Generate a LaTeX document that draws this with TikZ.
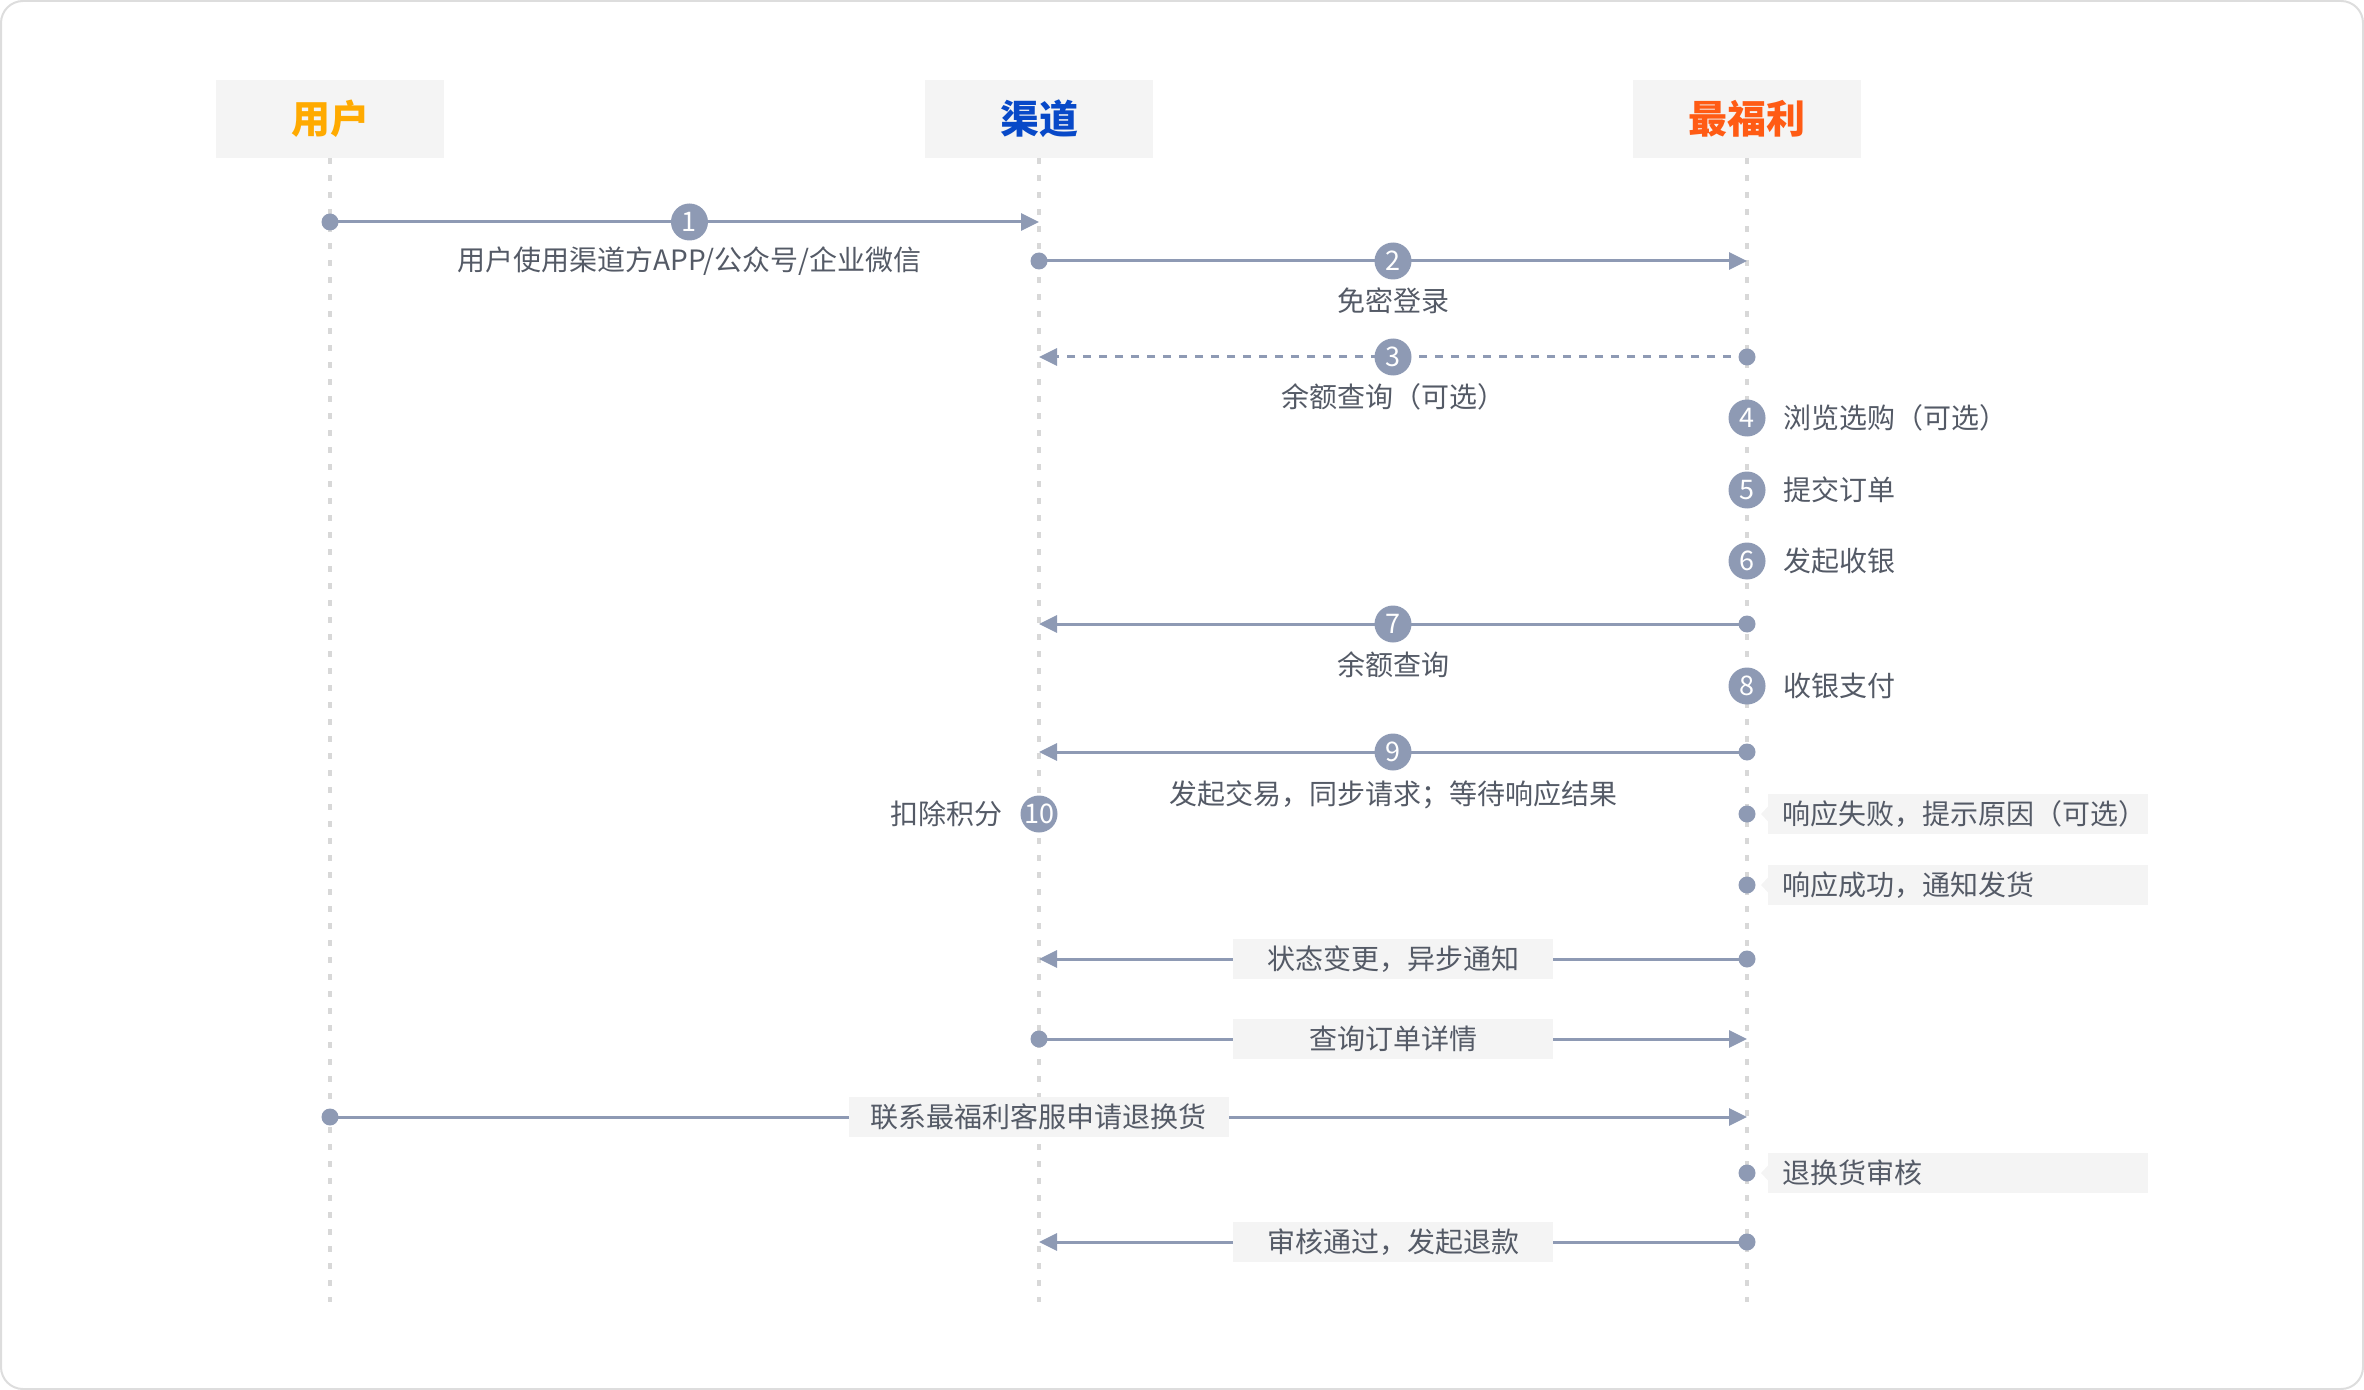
\documentclass[tikz,border=0pt]{standalone}
\usepackage{fontspec}
\setmainfont{Noto Sans CJK SC}
\usetikzlibrary{arrows.meta,positioning}
\definecolor{linegray}{HTML}{8E9AB4}
\definecolor{lifegray}{HTML}{D8D8D8}
\definecolor{boxgray}{HTML}{F4F4F4}
\definecolor{framegray}{HTML}{DDDDDD}
\definecolor{txtgray}{HTML}{545A66}
\definecolor{userorange}{HTML}{FFAA00}
\definecolor{chanblue}{HTML}{0849C8}
\definecolor{zflred}{HTML}{FF5B14}

\begin{document}
\begin{tikzpicture}[x=0.5pt,y=-0.5pt,
    head/.style={fill=boxgray,minimum width=114pt,minimum height=39pt,inner sep=0pt,font=\fontsize{19.5}{22}\selectfont\bfseries},
    life/.style={lifegray,line width=1.8pt,dash pattern=on 3pt off 5.5pt},
    msg/.style={linegray,line width=1.5pt,-{Triangle[length=9pt,width=8.5pt]}},
    dot/.style={circle,fill=linegray,inner sep=0pt,minimum size=8.5pt},
    num/.style={circle,fill=linegray,text=white,inner sep=0pt,minimum size=18.5pt,font=\fontsize{13.5}{13.5}\selectfont},
    lbl/.style={text=txtgray,font=\fontsize{14}{16}\selectfont,inner sep=0pt},
    tag/.style={lbl,fill=boxgray,minimum width=160pt,minimum height=20pt},
    note/.style={lbl,fill=boxgray,anchor=west,text width=176pt,inner xsep=7pt,minimum height=20pt,align=left}]

    \useasboundingbox (0,0) rectangle (2364,1390);
    \draw[framegray,line width=1pt,rounded corners=11pt] (1,1) rectangle (2363,1389);

    % lanes
    \node[head,text=userorange] (user) at (330,119) {用户};
    \node[head,text=chanblue] (chan) at (1039,119) {渠道};
    \node[head,text=zflred] (zfl) at (1747,119) {最福利};
    \coordinate (bottom) at (0,1302);
    \foreach \h in {user,chan,zfl} \draw[life] (\h.south) -- (\h.south |- bottom);

    % rows
    \foreach \r/\y in {1/222,2/261,3/357,4/418,5/490,6/561,7/624,8/686,9/752,10/814,
                       a/814,b/885,11/959,12/1039,13/1117,c/1173,14/1242}
        \coordinate (r\r) at (0,\y);

    % numbered messages
    \node[dot] (d1) at (user |- r1) {};
    \draw[msg] (d1.center) -- node[num,pos=0.507] (n1) {1} (chan |- r1);
    \node[lbl] at ([yshift=-19.5pt]n1.center) {用户使用渠道方APP/公众号/企业微信};

    \node[dot] (d2) at (chan |- r2) {};
    \draw[msg] (d2.center) -- node[num] (n2) {2} (zfl |- r2);
    \node[lbl] at ([yshift=-20pt]n2.center) {免密登录};

    \node[dot] (d3) at (zfl |- r3) {};
    \draw[msg,dash pattern=on 4pt off 4pt] (d3.center) -- node[num,solid] (n3) {3} (chan |- r3);
    \node[lbl] at ([yshift=-20pt]n3.center) {余额查询（可选）};

    \node[dot] (d7) at (zfl |- r7) {};
    \draw[msg] (d7.center) -- node[num] (n7) {7} (chan |- r7);
    \node[lbl] at ([yshift=-20.5pt]n7.center) {余额查询};

    \node[dot] (d9) at (zfl |- r9) {};
    \draw[msg] (d9.center) -- node[num] (n9) {9} (chan |- r9);
    \node[lbl] at ([yshift=-21.5pt]n9.center) {发起交易，同步请求；等待响应结果};

    % steps on the lanes
    \foreach \n/\txt in {4/浏览选购（可选）,5/提交订单,6/发起收银,8/收银支付} {
        \node[num] (n\n) at (zfl |- r\n) {\n};
        \node[lbl,right=8.5pt of n\n] {\txt};
    }
    \node[num] (n10) at (chan |- r10) {10};
    \node[lbl,left=8.5pt of n10] {扣除积分};

    % notes
    \foreach \r/\txt in {a/响应失败，提示原因（可选）,b/响应成功，通知发货,c/退换货审核} {
        \node[dot] (d\r) at (zfl |- r\r) {};
        \node[note] (note\r) at ([xshift=10.5pt]d\r.center) {\txt};
        \fill[boxgray] ([yshift=3.75pt]note\r.west) -- ([xshift=-3.5pt]note\r.west) -- ([yshift=-3.75pt]note\r.west) -- cycle;
    }

    % tagged messages
    \node[dot] (d11) at (zfl |- r11) {};
    \draw[msg] (d11.center) -- node[tag] {状态变更，异步通知} (chan |- r11);

    \node[dot] (d12) at (chan |- r12) {};
    \draw[msg] (d12.center) -- node[tag] {查询订单详情} (zfl |- r12);

    \node[dot] (d13) at (user |- r13) {};
    \draw[msg] (d13.center) -- node[tag,minimum width=190pt] {联系最福利客服申请退换货} (zfl |- r13);

    \node[dot] (d14) at (zfl |- r14) {};
    \draw[msg] (d14.center) -- node[tag] {审核通过，发起退款} (chan |- r14);
\end{tikzpicture}
\end{document}
